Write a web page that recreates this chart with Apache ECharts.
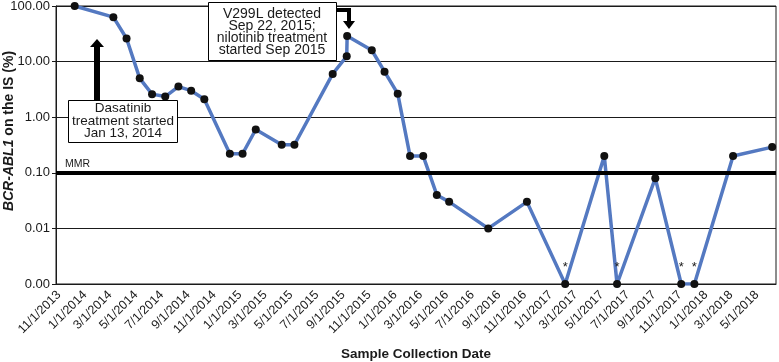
<!DOCTYPE html>
<html>
<head>
<meta charset="utf-8">
<script src="https://cdn.jsdelivr.net/npm/echarts@6/dist/echarts.min.js"></script>
<style>
  html, body { margin: 0; padding: 0; background: #fff; }
  #chart { width: 779px; height: 362px; }
</style>
</head>
<body>
<div id="chart"></div>
<script>
// tick labels on the date axis (every 2 months)
var tickLabels = ['11/1/2013', '1/1/2014', '3/1/2014', '5/1/2014', '7/1/2014', '9/1/2014',
    '11/1/2014', '1/1/2015', '3/1/2015', '5/1/2015', '7/1/2015', '9/1/2015',
    '11/1/2015', '1/1/2016', '3/1/2016', '5/1/2016', '7/1/2016', '9/1/2016',
    '11/1/2016', '1/1/2017', '3/1/2017', '5/1/2017', '7/1/2017', '9/1/2017',
    '11/1/2017', '1/1/2018', '3/1/2018', '5/1/2018'];

// sample collection dates
var sampleDates = ['12/8/2013', '3/9/2014', '4/9/2014', '5/10/2014', '6/8/2014', '7/9/2014',
    '8/9/2014', '9/8/2014', '10/9/2014', '12/8/2014', '1/7/2015', '2/7/2015',
    '4/9/2015', '5/9/2015', '8/7/2015', '9/9/2015', '9/10/2015', '11/7/2015',
    '12/7/2015', '1/7/2016', '2/5/2016', '3/7/2016', '4/8/2016', '5/7/2016',
    '8/7/2016', '11/6/2016', '2/4/2017', '5/7/2017', '6/6/2017', '9/4/2017',
    '11/4/2017', '12/5/2017', '3/6/2018', '6/6/2018'];

// BCR-ABL1 on the IS (%)
var bcrAbl = [100, 63, 26, 5, 2.6, 2.35,
    3.55, 3.0, 2.1, 0.22, 0.22, 0.6,
    0.32, 0.32, 6.0, 12.5, 29, 16,
    6.6, 2.65, 0.2, 0.2, 0.04, 0.03,
    0.01, 0.03, 0.001, 0.2, 0.001, 0.08,
    0.001, 0.001, 0.2, 0.29];

var axisMinDate = '10/25/2013';
var axisMaxDate = '6/15/2018';
var mmrLevel = 0.1;
var floorLevel = 0.001;   // undetectable, shown as 0.00 with *

function parseDate(s) {
    var p = s.split('/');
    return new Date(+p[2], +p[0] - 1, +p[1]).getTime();
}

var FONT = '"Liberation Sans", Arial, sans-serif';
var myChart = echarts.init(document.getElementById('chart'));

var seriesData = sampleDates.map(function (d, i) {
    var item = { value: [parseDate(d), bcrAbl[i]] };
    if (bcrAbl[i] <= floorLevel) {
        item.label = { show: true };
    }
    return item;
});

var option = {
    animation: false,
    backgroundColor: '#fff',
    grid: {
        left: 56, right: 3, top: 6, bottom: 78,
        containLabel: false,
        outerBoundsMode: 'none',
        show: true,
        borderColor: '#1a1a1a',
        borderWidth: 1
    },
    xAxis: {
        type: 'value',
        min: parseDate(axisMinDate),
        max: parseDate(axisMaxDate),
        name: 'Sample Collection Date',
        nameLocation: 'middle',
        nameGap: 63,
        nameTextStyle: { fontFamily: FONT, fontWeight: 'bold', fontSize: 13.5, color: '#1a1a1a' },
        axisLine: { show: true, lineStyle: { color: '#1a1a1a', width: 1 } },
        axisTick: { show: false },
        splitLine: { show: false },
        axisLabel: {
            customValues: tickLabels.map(parseDate),
            rotate: 45,
            margin: 9,
            hideOverlap: false,
            showMinLabel: true,
            showMaxLabel: true,
            fontFamily: FONT,
            fontSize: 12.5,
            color: '#1a1a1a',
            formatter: function (v) {
                var d = new Date(v);
                return (d.getMonth() + 1) + '/' + d.getDate() + '/' + d.getFullYear();
            }
        }
    },
    yAxis: {
        type: 'log',
        logBase: 10,
        min: 0.001,
        max: 100,
        splitNumber: 5,
        axisLine: { show: true, lineStyle: { color: '#1a1a1a', width: 1 } },
        axisTick: { show: true, length: 4, lineStyle: { color: '#1a1a1a' } },
        splitLine: { show: true, lineStyle: { color: '#1a1a1a', width: 1 } },
        axisLabel: {
            margin: 6,
            fontFamily: FONT,
            fontSize: 13,
            color: '#1a1a1a',
            formatter: function (v) { return v.toFixed(2); }
        }
    },
    series: [{
        type: 'line',
        data: seriesData,
        symbol: 'circle',
        symbolSize: 8,
        lineStyle: { color: '#5479c1', width: 3.5 },
        itemStyle: { color: '#111' },
        label: {
            show: false,
            position: 'top',
            distance: 6,
            formatter: '*',
            fontFamily: FONT,
            fontSize: 13,
            color: '#1a1a1a'
        },
        markLine: {
            silent: true,
            symbol: ['none', 'none'],
            data: [{ yAxis: mmrLevel }],
            lineStyle: { color: '#000', width: 4, type: 'solid' },
            label: {
                show: true,
                position: 'insideStartTop',
                formatter: 'MMR',
                distance: 3,
                padding: [0, 0, 0, 6],
                fontFamily: FONT,
                fontSize: 10.5,
                color: '#1a1a1a'
            }
        },
        z: 3
    }],
    graphic: [
        // y axis title
        {
            type: 'text', x: 9, y: 131, rotation: Math.PI / 2, z: 10,
            style: {
                text: '{i|BCR-ABL1} on the IS (%)',
                align: 'center', verticalAlign: 'middle',
                fontFamily: FONT, fontWeight: 'bold', fontSize: 14, fill: '#1a1a1a',
                rich: { i: { fontStyle: 'italic', fontWeight: 'bold', fontSize: 14, fontFamily: FONT, fill: '#1a1a1a' } }
            }
        },
        // dasatinib annotation
        {
            type: 'polygon', z: 10,
            shape: { points: [[94, 100], [94, 47], [90, 47], [97, 39], [104, 47], [100, 47], [100, 100]] },
            style: { fill: '#000' }
        },
        {
            type: 'rect', z: 10,
            shape: { x: 68.5, y: 100.5, width: 109, height: 42 },
            style: { fill: '#fff', stroke: '#000', lineWidth: 1 }
        },
        {
            type: 'text', x: 123, y: 121, z: 11,
            style: {
                text: 'Dasatinib\ntreatment started\nJan 13, 2014',
                align: 'center', verticalAlign: 'middle', lineHeight: 12.3,
                fontFamily: FONT, fontSize: 13.5, fill: '#1a1a1a'
            }
        },
        // V299L annotation
        {
            type: 'rect', z: 10,
            shape: { x: 208.5, y: 2.5, width: 128, height: 58 },
            style: { fill: '#fff', stroke: '#000', lineWidth: 1 }
        },
        {
            type: 'text', x: 272, y: 32, z: 11,
            style: {
                text: 'V299L detected\nSep 22, 2015;\nnilotinib treatment\nstarted Sep 2015',
                align: 'center', verticalAlign: 'middle', lineHeight: 11.8,
                fontFamily: FONT, fontSize: 14, fill: '#1a1a1a'
            }
        },
        {
            type: 'polyline', z: 10,
            shape: { points: [[337, 10], [349, 10], [349, 22]] },
            style: { stroke: '#000', lineWidth: 4, fill: null }
        },
        {
            type: 'polygon', z: 10,
            shape: { points: [[343, 21], [355, 21], [349, 29]] },
            style: { fill: '#000' }
        }
    ]
};

myChart.setOption(option);
window.addEventListener('resize', function () {
    myChart.resize();
});
</script>
</body>
</html>
